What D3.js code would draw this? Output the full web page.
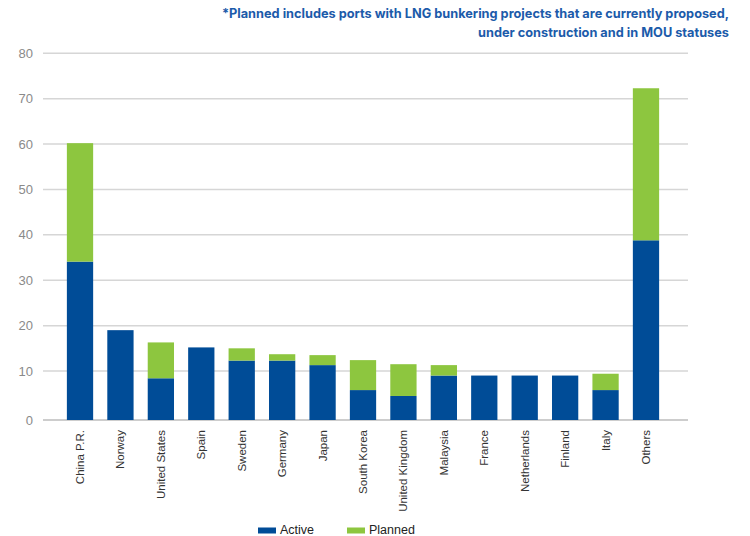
<!DOCTYPE html>
<html><head><meta charset="utf-8">
<script src="https://cdn.jsdelivr.net/npm/d3@7"></script>
<style>body{margin:0;background:#fff}svg{display:block}</style>
</head><body><svg id="c" width="750" height="536"></svg>
<script>
const categories = ["China P.R.","Norway","United States","Spain","Sweden","Germany","Japan","South Korea","United Kingdom","Malaysia","France","Netherlands","Finland","Italy","Others"];
const active  = [34.1, 19.0, 8.4, 15.2, 12.3, 12.3, 11.3, 5.8, 4.5, 9.0, 9.0, 9.0, 9.0, 5.8, 38.8];
const planned = [26.1, 0, 7.9, 0, 2.7, 1.4, 2.2, 6.6, 7.0, 2.3, 0, 0, 0, 3.6, 33.5];
const yTicks = [0,10,20,30,40,50,60,70,80];
const seriesNames = ["Active","Planned"];
const colors = ["#004C97","#8DC63F"];
const titleLines = ["*Planned includes ports with LNG bunkering projects that are currently proposed,","under construction and in MOU statuses"];

const svg = d3.select("#c");
const baseY = 420;
const y = d3.scaleLinear().domain([0,80]).range([416.4,53.3]);
const x = d3.scaleBand().domain(categories).range([60,666]).paddingInner(0.35).paddingOuter(0.17);

// gridlines + y labels
const g = svg.append("g");
g.selectAll("line.grid").data(yTicks.filter(d=>d>0)).join("line")
  .attr("x1",43).attr("x2",688).attr("y1",d=>y(d)).attr("y2",d=>y(d))
  .attr("stroke","#d6d6d6").attr("stroke-width",1.5);
g.append("line").attr("x1",43).attr("x2",688).attr("y1",baseY).attr("y2",baseY)
  .attr("stroke","#bdbdbd").attr("stroke-width",1.5);
g.selectAll("text.yl").data(yTicks).join("text")
  .attr("x",33).attr("y",d=>d===0?baseY:y(d)).attr("dy","0.35em")
  .attr("text-anchor","end").attr("font-family","Liberation Sans, Arial, sans-serif")
  .attr("font-size",13).attr("fill","#8a8a8a").text(d=>d);

// stacked bars
const data = categories.map((c,i)=>({c, a:active[i], p:planned[i]}));
svg.selectAll("rect.a").data(data).join("rect")
  .attr("x",d=>x(d.c)).attr("width",x.bandwidth())
  .attr("y",d=>y(d.a)).attr("height",d=>baseY-y(d.a))
  .attr("fill",colors[0]);
svg.selectAll("rect.p").data(data.filter(d=>d.p>0)).join("rect")
  .attr("x",d=>x(d.c)).attr("width",x.bandwidth())
  .attr("y",d=>y(d.a+d.p)).attr("height",d=>y(d.a)-y(d.a+d.p))
  .attr("fill",colors[1]);

// category labels
svg.selectAll("text.cat").data(categories).join("text")
  .attr("transform",d=>`translate(${x(d)+x.bandwidth()/2+4},430) rotate(-90)`)
  .attr("text-anchor","end").attr("font-family","Liberation Sans, Arial, sans-serif")
  .attr("font-size",11.5).attr("fill","#333").text(d=>d);

// title
svg.selectAll("text.t").data(titleLines).join("text")
  .attr("x",729).attr("y",(d,i)=>18+i*19).attr("text-anchor","end")
  .attr("font-family","Inter, Roboto, sans-serif").attr("font-weight",700)
  .attr("font-size",12.75).attr("fill","#1C5BAA").text(d=>d);

// legend
const lx = [258, 347];
const lg = svg.selectAll("g.lg").data(seriesNames).join("g")
  .attr("transform",(d,i)=>`translate(${lx[i]},0)`);
lg.append("rect").attr("x",0).attr("y",527.5).attr("width",18).attr("height",6).attr("fill",(d,i)=>colors[i]);
lg.append("text").attr("x",22).attr("y",534).attr("font-family","Liberation Sans, Arial, sans-serif")
  .attr("font-size",12.5).attr("fill","#222").text(d=>d);
</script></body></html>
